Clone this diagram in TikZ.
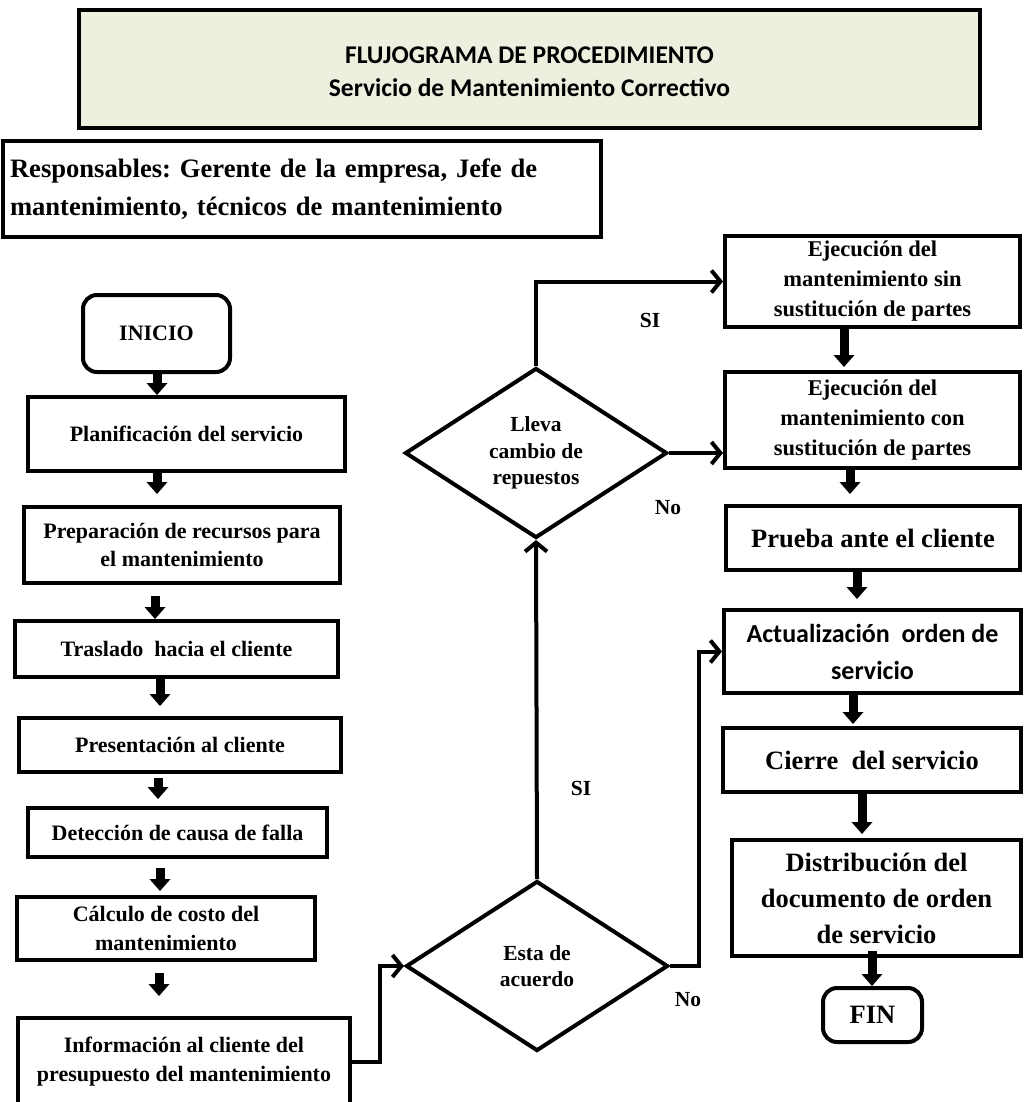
\documentclass[tikz,border=0pt]{standalone}
\usepackage{fontspec}
\setmainfont{Liberation Serif}
\newfontfamily\calib{Carlito}
\usetikzlibrary{shapes.geometric,arrows.meta}
\definecolor{titlegreen}{HTML}{EBF1DE}

\tikzset{
  box/.style={draw, line width=4pt, rectangle, inner sep=0pt, align=center},
  rbox/.style={box, rounded corners=14pt},
  decision/.style={draw, diamond, line width=4pt, inner sep=0pt,
    minimum width=262pt, minimum height=170pt},
  tnorm/.style={font=\bfseries\fontsize{22}{28.5}\selectfont},
  tej/.style={font=\bfseries\fontsize{22.5}{30}\selectfont},
  tdec/.style={font=\bfseries\fontsize{21.5}{26.5}\selectfont, align=center},
  tbig/.style={font=\bfseries\fontsize{26.5}{36}\selectfont},
  tcal/.style={font=\calib\bfseries\fontsize{26}{37}\selectfont},
  ttitle/.style={font=\calib\bfseries\fontsize{25.5}{33}\selectfont},
  tresp/.style={font=\frenchspacing\bfseries\fontsize{26.6}{38}\selectfont},
  lbl/.style={font=\bfseries\fontsize{21.5}{25}\selectfont, inner sep=1pt},
  conn/.style={line width=4pt, -{Straight Barb[length=9pt,width=22pt]}},
  blk/.style={line width=9pt, -{Triangle[length=12pt,width=21pt,line width=0pt]}}
}

\begin{document}
\begin{tikzpicture}[x=1pt,y=-1pt]
\useasboundingbox (0,0) rectangle (1023,1102);
\fill[white] (0,0) rectangle (1023,1102);

% header
\node[box, fill=titlegreen, minimum width=901pt, minimum height=118pt,
  label={[name=titletext, ttitle, align=center, yshift=-2.5pt]center:FLUJOGRAMA DE PROCEDIMIENTO\\Servicio de Mantenimiento Correctivo}] (title) at (529.5,69) {};
\node[box, tresp, minimum width=598pt, minimum height=96pt, text width=584pt, align=left] (resp) at (302,189)
  {Responsables: Gerente de la empresa, Jefe de\\mantenimiento, técnicos de mantenimiento};

% left column
\node[rbox, tnorm, minimum width=147pt, minimum height=77pt] (inicio) at (156.5,333.5) {INICIO};
\node[box, tnorm, minimum width=317pt, minimum height=74pt] (plan) at (186.5,434) {Planificación del servicio};
\node[box, tnorm, minimum width=316pt, minimum height=76pt] (prep) at (182,545) {Preparación de recursos para\\el mantenimiento};
\node[box, tnorm, minimum width=323pt, minimum height=56pt] (tras) at (176.5,649) {Traslado\ \ hacia el cliente};
\node[box, tnorm, minimum width=322pt, minimum height=54pt] (pres) at (180,745) {Presentación al cliente};
\node[box, tnorm, minimum width=299pt, minimum height=49pt] (detec) at (177.5,832.5) {Detección de causa de falla};
\node[box, tnorm, minimum width=298pt, minimum height=63pt] (calc) at (166,928.5) {Cálculo de costo del\\mantenimiento};
\node[box, minimum width=332pt, minimum height=92pt,
  label={[name=infotext, tnorm, align=center, yshift=2.5pt]center:Información al cliente del\\presupuesto del mantenimiento}] (info) at (184,1064) {};

% decisions
\node[decision, label={[name=llevatext, tdec]center:Lleva\\cambio de\\repuestos}] (lleva) at (536,453) {};
\node[decision, label={[name=acuerdotext, tdec]center:Esta de\\acuerdo}] (acuerdo) at (537,966) {};

% right column
\node[box, tej, minimum width=295pt, minimum height=91pt] (ejsin) at (872.5,281.5) {Ejecución del\\mantenimiento sin\\sustitución de partes};
\node[box, tej, minimum width=295pt, minimum height=96pt] (ejcon) at (872.5,420) {Ejecución del\\mantenimiento con\\sustitución de partes};
\node[box, tbig, minimum width=294pt, minimum height=64pt] (prueba) at (873,538) {Prueba ante el cliente};
\node[box, tcal, minimum width=297pt, minimum height=83pt] (actual) at (872.5,651.5) {Actualización\ \ orden de\\servicio};
\node[box, tbig, minimum width=298pt, minimum height=64pt] (cierre) at (872,760) {Cierre\ \ del servicio};
\node[box, tbig, minimum width=289pt, minimum height=116pt] (dist) at (876.5,898) {Distribución del\\documento de orden\\de servicio};
\node[rbox, tbig, minimum width=99pt, minimum height=54pt] (fin) at (872.5,1015) {FIN};

% branch labels
\node[lbl] (si1) at (650,320) {SI};
\node[lbl] (no1) at (668,508) {No};
\node[lbl] (si2) at (581,788) {SI};
\node[lbl] (no2) at (688,1000) {No};

% block arrows, left column
\draw[blk] (inicio.south -| 157,0) -- (plan.north -| 157,0);
\draw[blk, shorten >=11pt] (plan.south -| 157,0) -- (prep.north -| 157,0);
\draw[blk, shorten <=11pt] (prep.south -| 155,0) -- (tras.north -| 155,0);
\draw[blk, shorten >=10pt] (tras.south -| 160,0) -- (pres.north -| 160,0);
\draw[blk, shorten <=4pt, shorten >=7pt] (pres.south -| 158,0) -- (detec.north -| 158,0);
\draw[blk, shorten <=9pt, shorten >=4pt] (detec.south -| 160,0) -- (calc.north -| 160,0);
\draw[blk, shorten <=11pt, shorten >=20pt] (calc.south -| 159,0) -- (info.north -| 159,0);

% block arrows, right column
\draw[blk, shorten >=3pt] (ejsin.south -| 844,0) -- (ejcon.north -| 844,0);
\draw[blk, shorten >=10pt] (ejcon.south -| 850,0) -- (prueba.north -| 850,0);
\draw[blk, shorten >=9pt] (prueba.south -| 857,0) -- (actual.north -| 857,0);
\draw[blk, shorten >=2pt] (actual.south -| 853,0) -- (cierre.north -| 853,0);
\draw[blk, shorten >=4pt] (cierre.south -| 862,0) -- (dist.north -| 862,0);
\draw[blk, shorten <=-7pt] (dist.south -| 872,0) -- (fin.north -| 872,0);

% decision connectors
\draw[conn] (info.east |- 0,1062) -- ++(28,0) |- (acuerdo.west);
\draw[conn] (acuerdo.north) -- (lleva.south);
\draw[conn] (lleva.north) |- (ejsin.west);
\draw[conn] (lleva.east) -- (lleva.east -| ejcon.west);
\draw[conn] (acuerdo.east) -- ++(29,0) |- (actual.west);
\end{tikzpicture}
\end{document}
